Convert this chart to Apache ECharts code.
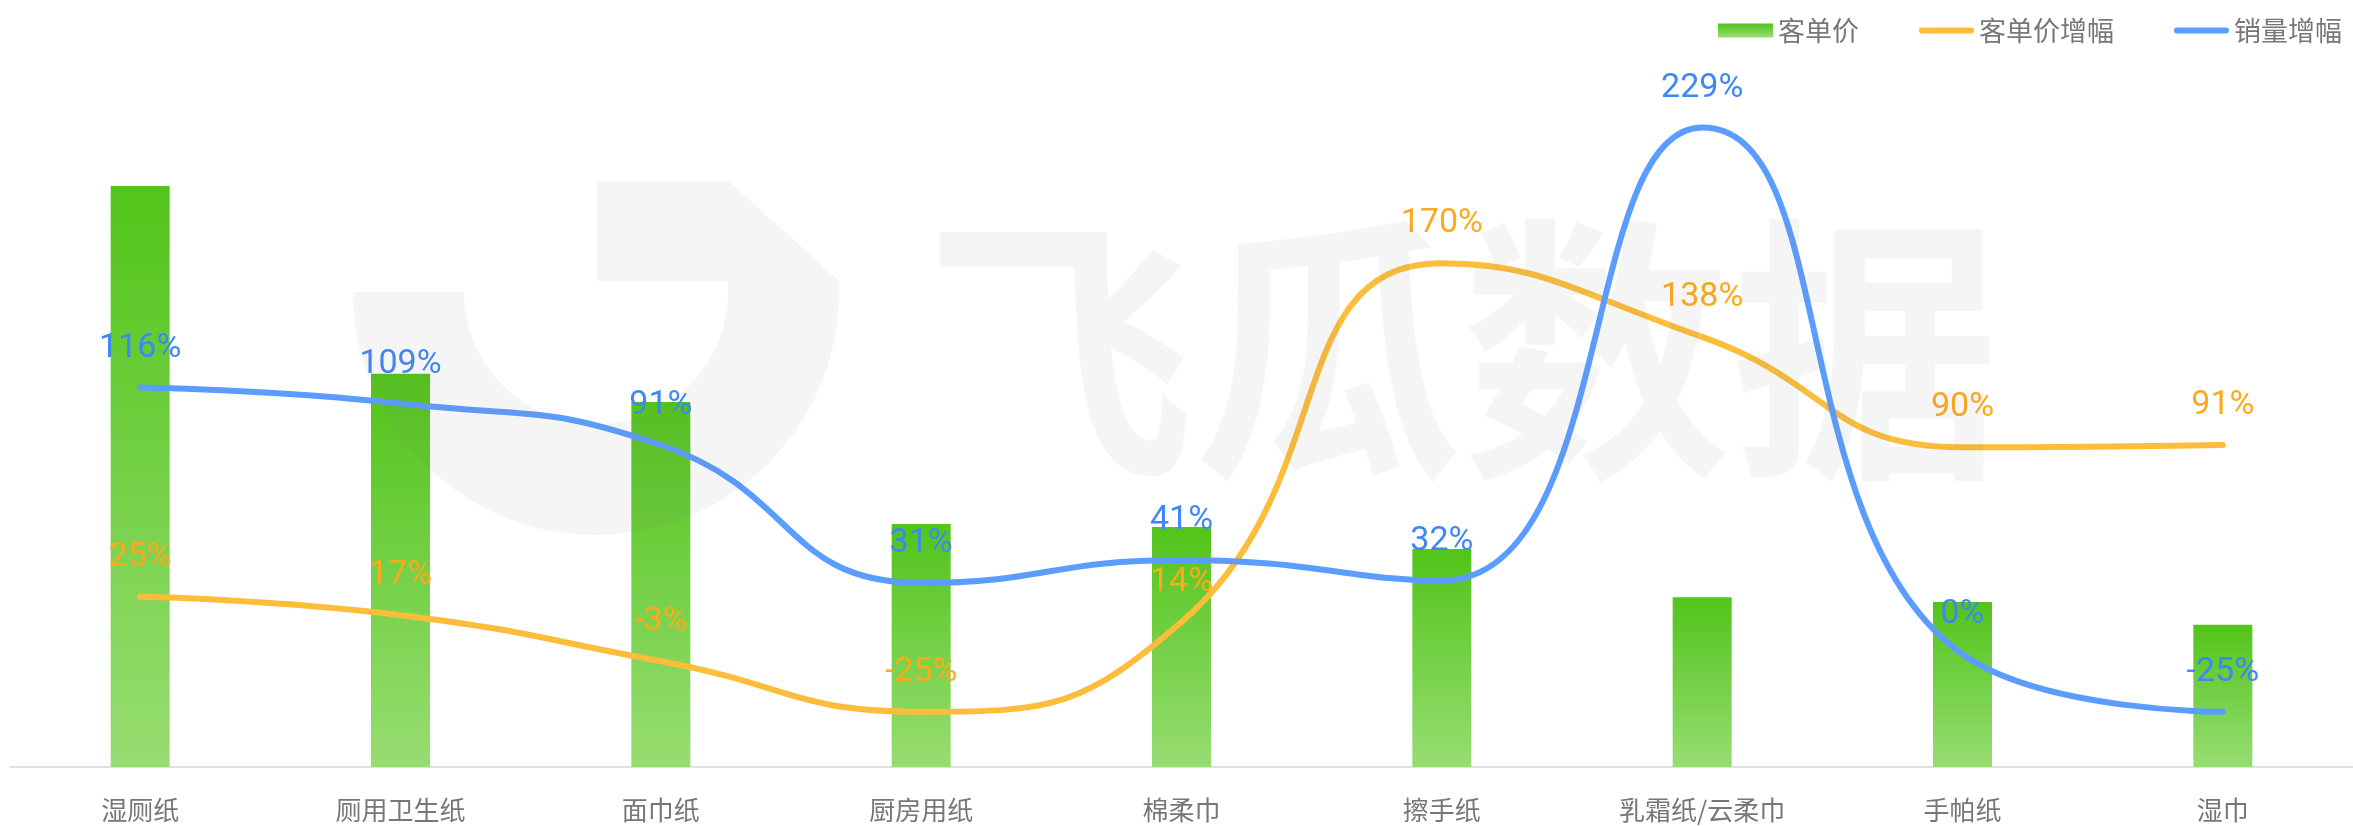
<!DOCTYPE html>
<html>
<head>
<meta charset="utf-8">
<script src="https://cdn.jsdelivr.net/npm/echarts@6/dist/echarts.min.js"></script>
<style>
  html, body { margin: 0; padding: 0; background: #fff; }
  #chart { width: 2353px; height: 826px; }
</style>
</head>
<body>
<div id="chart"></div>
<script>
const categories = ['湿厕纸', '厕用卫生纸', '面巾纸', '厨房用纸', '棉柔巾', '擦手纸', '乳霜纸/云柔巾', '手帕纸', '湿巾'];
const unitPrice = [84.2, 57.0, 52.9, 35.2, 34.8, 31.6, 24.6, 23.9, 20.6];
const unitPriceGrowth = [25, 17, -3, -25, 14, 170, 138, 90, 91];
const salesGrowth = [116, 109, 91, 31, 41, 32, 229, 0, -25];

const wmFill = 'rgba(120,120,120,0.075)';
const lineIcon = 'path://M3,0 L53,0 A3,3 0 0 1 53,6 L3,6 A3,3 0 0 1 3,0 Z';

const chart = echarts.init(document.getElementById('chart'));

function lineLabel(color) {
  return {
    show: true,
    position: 'top',
    distance: 22,
    formatter: '{c}%',
    fontSize: 34,
    color: color,
    fontFamily: 'Roboto'
  };
}

chart.setOption({
  backgroundColor: '#fff',
  animation: false,
  legend: {
    top: 12,
    right: 6,
    itemWidth: 55,
    itemHeight: 14,
    itemGap: 60,
    textStyle: { fontSize: 27, color: '#777', fontFamily: '"Noto Sans CJK SC"' },
    data: [
      { name: '客单价', icon: 'rect' },
      { name: '客单价增幅', icon: lineIcon },
      { name: '销量增幅', icon: lineIcon }
    ]
  },
  grid: { left: 10, right: -14, top: 77, bottom: 59 },
  xAxis: {
    type: 'category',
    data: categories,
    axisLine: { lineStyle: { color: '#e0e0e0', width: 2 } },
    axisTick: { length: 10, lineStyle: { color: '#dcdcdc', width: 1.5 } },
    axisLabel: { margin: 30, fontSize: 26, color: '#777', fontFamily: '"Noto Sans CJK SC"' }
  },
  yAxis: [
    { type: 'value', min: 0, max: 100, show: false, splitLine: { show: false } },
    { type: 'value', min: -49, max: 251, show: false, splitLine: { show: false } }
  ],
  series: [
    {
      name: '客单价',
      type: 'bar',
      barWidth: 59,
      data: unitPrice,
      itemStyle: {
        color: new echarts.graphic.LinearGradient(0, 0, 0, 1, [
          { offset: 0, color: '#52c41a' },
          { offset: 1, color: '#97dd72' }
        ])
      }
    },
    {
      name: '客单价增幅',
      type: 'line',
      yAxisIndex: 1,
      smooth: true,
      showSymbol: true,
      symbol: 'circle',
      symbolSize: 1,
      data: unitPriceGrowth,
      itemStyle: { color: '#fcbd3a' },
      lineStyle: { color: '#fcbd3a', width: 6, cap: 'round' },
      label: lineLabel('#fdaa1a')
    },
    {
      name: '销量增幅',
      type: 'line',
      yAxisIndex: 1,
      smooth: true,
      showSymbol: true,
      symbol: 'circle',
      symbolSize: 1,
      data: salesGrowth,
      itemStyle: { color: '#5b9cff' },
      lineStyle: { color: '#5b9cff', width: 6, cap: 'round' },
      label: lineLabel('#3d87f7')
    }
  ],
  // watermark
  graphic: [
    {
      type: 'sector', z: 50, silent: true,
      shape: { cx: 596, cy: 292, r: 243, r0: 132, startAngle: 0, endAngle: Math.PI },
      style: { fill: wmFill }
    },
    {
      type: 'polygon', z: 50, silent: true,
      shape: { points: [[597, 182], [730, 182], [839, 281], [839, 292], [728, 292], [728, 281], [597, 281]] },
      style: { fill: wmFill }
    },
    {
      type: 'text', z: 50, silent: true,
      x: 925, y: 350, scaleX: 0.96,
      style: {
        text: '飞瓜数据',
        font: 'bold 280px "Noto Sans CJK SC"',
        fill: wmFill,
        verticalAlign: 'middle'
      }
    }
  ]
});
</script>
</body>
</html>
